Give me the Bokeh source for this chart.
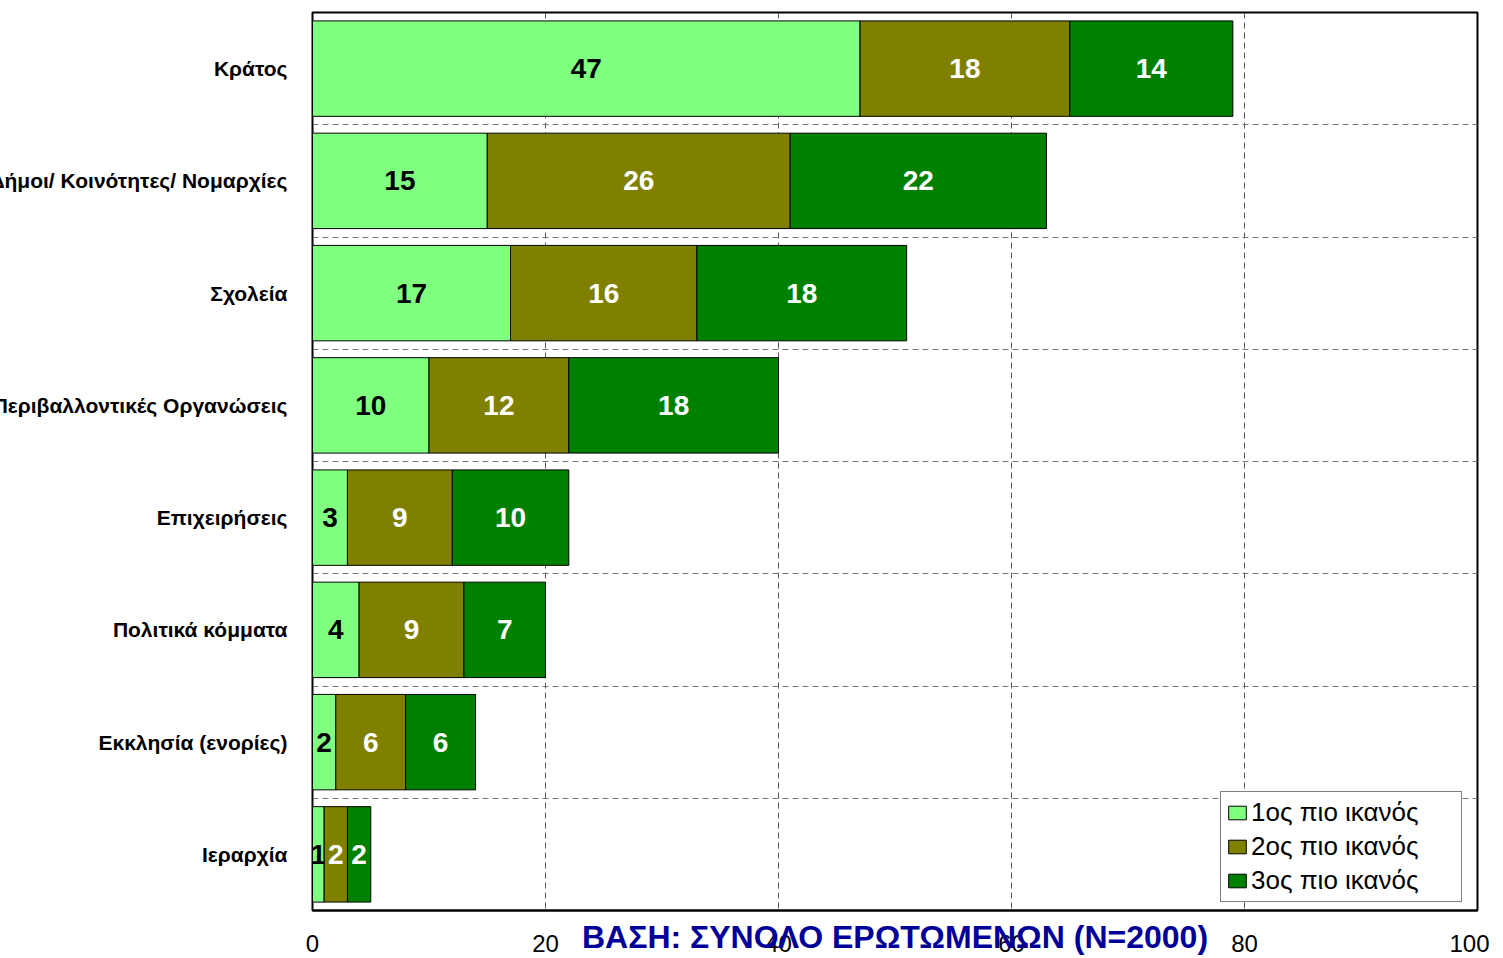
from bokeh.plotting import figure
from bokeh.models import Range1d, FixedTicker, Legend, LegendItem, ColumnDataSource
from bokeh.core.properties import value
from bokeh.embed import file_html
from bokeh.resources import INLINE

categories = ["Κράτος", "Δήμοι/ Κοινότητες/ Νομαρχίες", "Σχολεία",
              "Περιβαλλοντικές Οργανώσεις", "Επιχειρήσεις", "Πολιτικά κόμματα",
              "Εκκλησία (ενορίες)", "Ιεραρχία"]
first = [47, 15, 17, 10, 3, 4, 2, 1]
second = [18, 26, 16, 12, 9, 9, 6, 2]
third = [14, 22, 18, 18, 10, 7, 6, 2]
series_names = ["1ος πιο ικανός", "2ος πιο ικανός", "3ος πιο ικανός"]
colors = ["#80FF80", "#808000", "#008000"]
label_colors = ["black", "white", "white"]
x_ticks = [0, 20, 40, 60, 80, 100]
footer_text = "ΒΑΣΗ: ΣΥΝΟΛΟ ΕΡΩΤΩΜΕΝΩΝ (N=2000)"

FONT = "Liberation Sans"
n = len(categories)
ys = list(range(n))

p = figure(width=1503, height=958, output_backend="svg", toolbar_location=None,
           x_range=Range1d(0, 100), y_range=Range1d(n - 0.5, -0.5),
           min_border_top=12, min_border_right=12, min_border_bottom=48, min_border_left=10)
p.styles = {"margin-left": "-14px"}

series = [first, second, third]
left = [0] * n
renderers = []
for vals, col, tcol in zip(series, colors, label_colors):
    right = [l + v for l, v in zip(left, vals)]
    src = ColumnDataSource(dict(y=ys, left=left, right=right,
                                mid=[(l + r) / 2 for l, r in zip(left, right)],
                                txt=[str(v) for v in vals]))
    r = p.hbar(y="y", left="left", right="right", height=0.85, source=src,
               fill_color=col, line_color="black", line_width=1)
    renderers.append(r)
    p.text(x="mid", y="y", text="txt", source=src, text_align="center",
           text_baseline="middle", text_color=tcol, text_font=value(FONT),
           text_font_size="28px", text_font_style="bold")
    left = right

# axes
p.xaxis.ticker = FixedTicker(ticks=x_ticks)
p.xaxis.major_label_text_font = FONT
p.xaxis.major_label_text_font_size = "24px"
p.xaxis.major_label_text_color = "black"
p.xaxis.major_label_standoff = 18
p.xaxis.major_tick_line_color = None
p.xaxis.minor_tick_line_color = None
p.xaxis.axis_line_color = "black"
p.xaxis.axis_line_width = 2
p.xaxis.axis_label = footer_text
p.xaxis.axis_label_text_font = FONT
p.xaxis.axis_label_text_font_size = "32px"
p.xaxis.axis_label_text_font_style = "bold"
p.xaxis.axis_label_text_color = "#000099"
p.xaxis.axis_label_standoff = -36

p.yaxis.ticker = FixedTicker(ticks=ys)
p.yaxis.major_label_overrides = {i: c for i, c in enumerate(categories)}
p.yaxis.major_label_text_font = FONT
p.yaxis.major_label_text_font_size = "21px"
p.yaxis.major_label_text_font_style = "bold"
p.yaxis.major_label_text_color = "black"
p.yaxis.major_label_standoff = 19
p.yaxis.major_tick_line_color = None
p.yaxis.minor_tick_line_color = None
p.yaxis.axis_line_color = "black"
p.yaxis.axis_line_width = 1

# grids
p.xgrid.ticker = FixedTicker(ticks=x_ticks[1:-1])
p.xgrid.grid_line_color = "#555555"
p.xgrid.grid_line_dash = "6 4"
p.ygrid.ticker = FixedTicker(ticks=[i + 0.5 for i in ys[:-1]])
p.ygrid.grid_line_color = "#777777"
p.ygrid.grid_line_dash = "6 4"

p.outline_line_color = "black"
p.outline_line_width = 2
p.background_fill_color = "white"
p.border_fill_color = "white"

legend = Legend(items=[LegendItem(label=nm, renderers=[r]) for nm, r in zip(series_names, renderers)],
                location=(908, 8), orientation="vertical")
legend.label_text_font = FONT
legend.label_text_font_size = "26px"
legend.label_text_color = "black"
legend.label_height = 30
legend.label_width = 205
legend.glyph_width = 22
legend.glyph_height = 17
legend.label_standoff = 3
legend.spacing = 3
legend.padding = 5
legend.margin = 0
legend.border_line_color = "black"
legend.border_line_width = 1
legend.background_fill_alpha = 1
p.add_layout(legend)

open("out.html", "w").write(file_html(p, INLINE))
